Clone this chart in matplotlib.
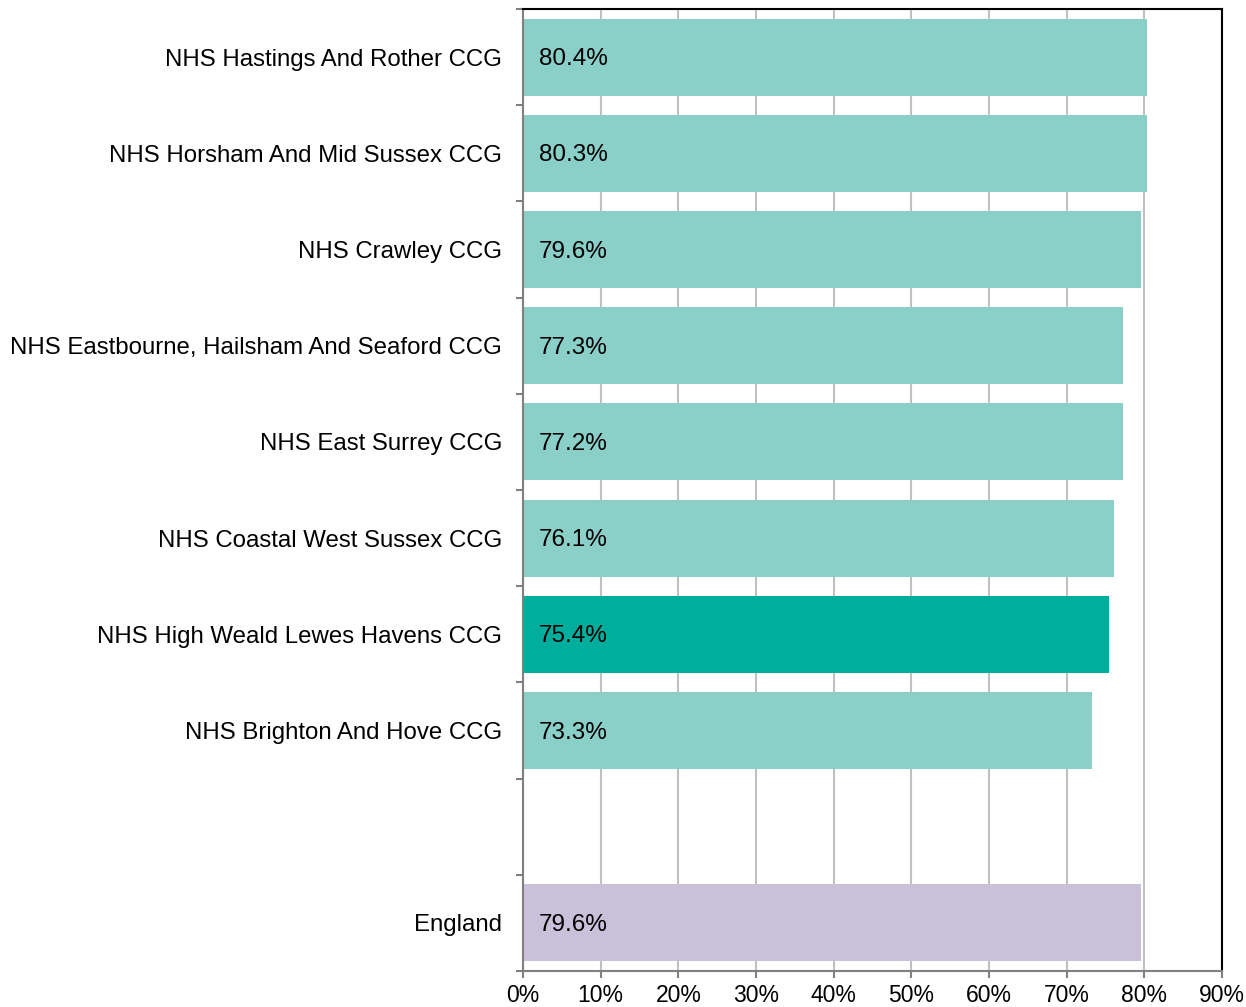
import matplotlib
matplotlib.use("Agg")
import matplotlib.pyplot as plt
from matplotlib.ticker import FixedLocator

categories = [
    "NHS Hastings And Rother CCG",
    "NHS Horsham And Mid Sussex CCG",
    "NHS Crawley CCG",
    "NHS Eastbourne, Hailsham And Seaford CCG",
    "NHS East Surrey CCG",
    "NHS Coastal West Sussex CCG",
    "NHS High Weald Lewes Havens CCG",
    "NHS Brighton And Hove CCG",
    "",
    "England",
]
values = [80.4, 80.3, 79.6, 77.3, 77.2, 76.1, 75.4, 73.3, None, 79.6]
value_labels = ["80.4%", "80.3%", "79.6%", "77.3%", "77.2%", "76.1%", "75.4%", "73.3%", "", "79.6%"]
colors = ["#8ad0c8"] * 6 + ["#00ae9e", "#8ad0c8", "#ffffff", "#c9c0da"]
xticks = [0, 10, 20, 30, 40, 50, 60, 70, 80, 90]
xtick_labels = ["0%", "10%", "20%", "30%", "40%", "50%", "60%", "70%", "80%", "90%"]

plt.rcParams['font.family'] = ['Liberation Sans', 'DejaVu Sans']

fig = plt.figure(figsize=(12.46, 10.07), dpi=100)
ax = fig.add_axes([523/1246, 1 - 971/1007, (1222-523)/1246, (971-9)/1007])

n = len(categories)
for i, (v, c, lab) in enumerate(zip(values, colors, value_labels)):
    if v is None:
        continue
    ax.barh(i, v, height=0.8, color=c, zorder=2)
    ax.annotate(lab, xy=(0, i), xytext=(11.5, -1.5), textcoords="offset points",
                ha="left", va="center", fontsize=17.5, color="black", zorder=3)

ax.set_xlim(0, 90)
ax.set_ylim(n - 0.5, -0.5)
ax.set_xticks(xticks)
ax.set_xticklabels(xtick_labels, fontsize=16.5)
ax.set_yticks(range(n))
ax.set_yticklabels(categories, fontsize=17.3)
ax.yaxis.set_minor_locator(FixedLocator([i - 0.5 for i in range(n + 1)]))
ax.tick_params(axis="y", which="major", length=0, pad=15)
ax.tick_params(axis="y", which="minor", length=5, width=1.5, color="#808080", direction="out")
ax.tick_params(axis="x", which="major", length=5, width=1.5, color="#808080", direction="out", pad=4.5)

ax.grid(axis="x", color="#c0c0c0", linewidth=1.5, zorder=0)
ax.set_axisbelow(True)

for side in ["left", "bottom"]:
    ax.spines[side].set_color("#808080")
    ax.spines[side].set_linewidth(1.5)
for side in ["top", "right"]:
    ax.spines[side].set_color("black")
    ax.spines[side].set_linewidth(1.5)

fig.savefig("out.png", dpi=100)
